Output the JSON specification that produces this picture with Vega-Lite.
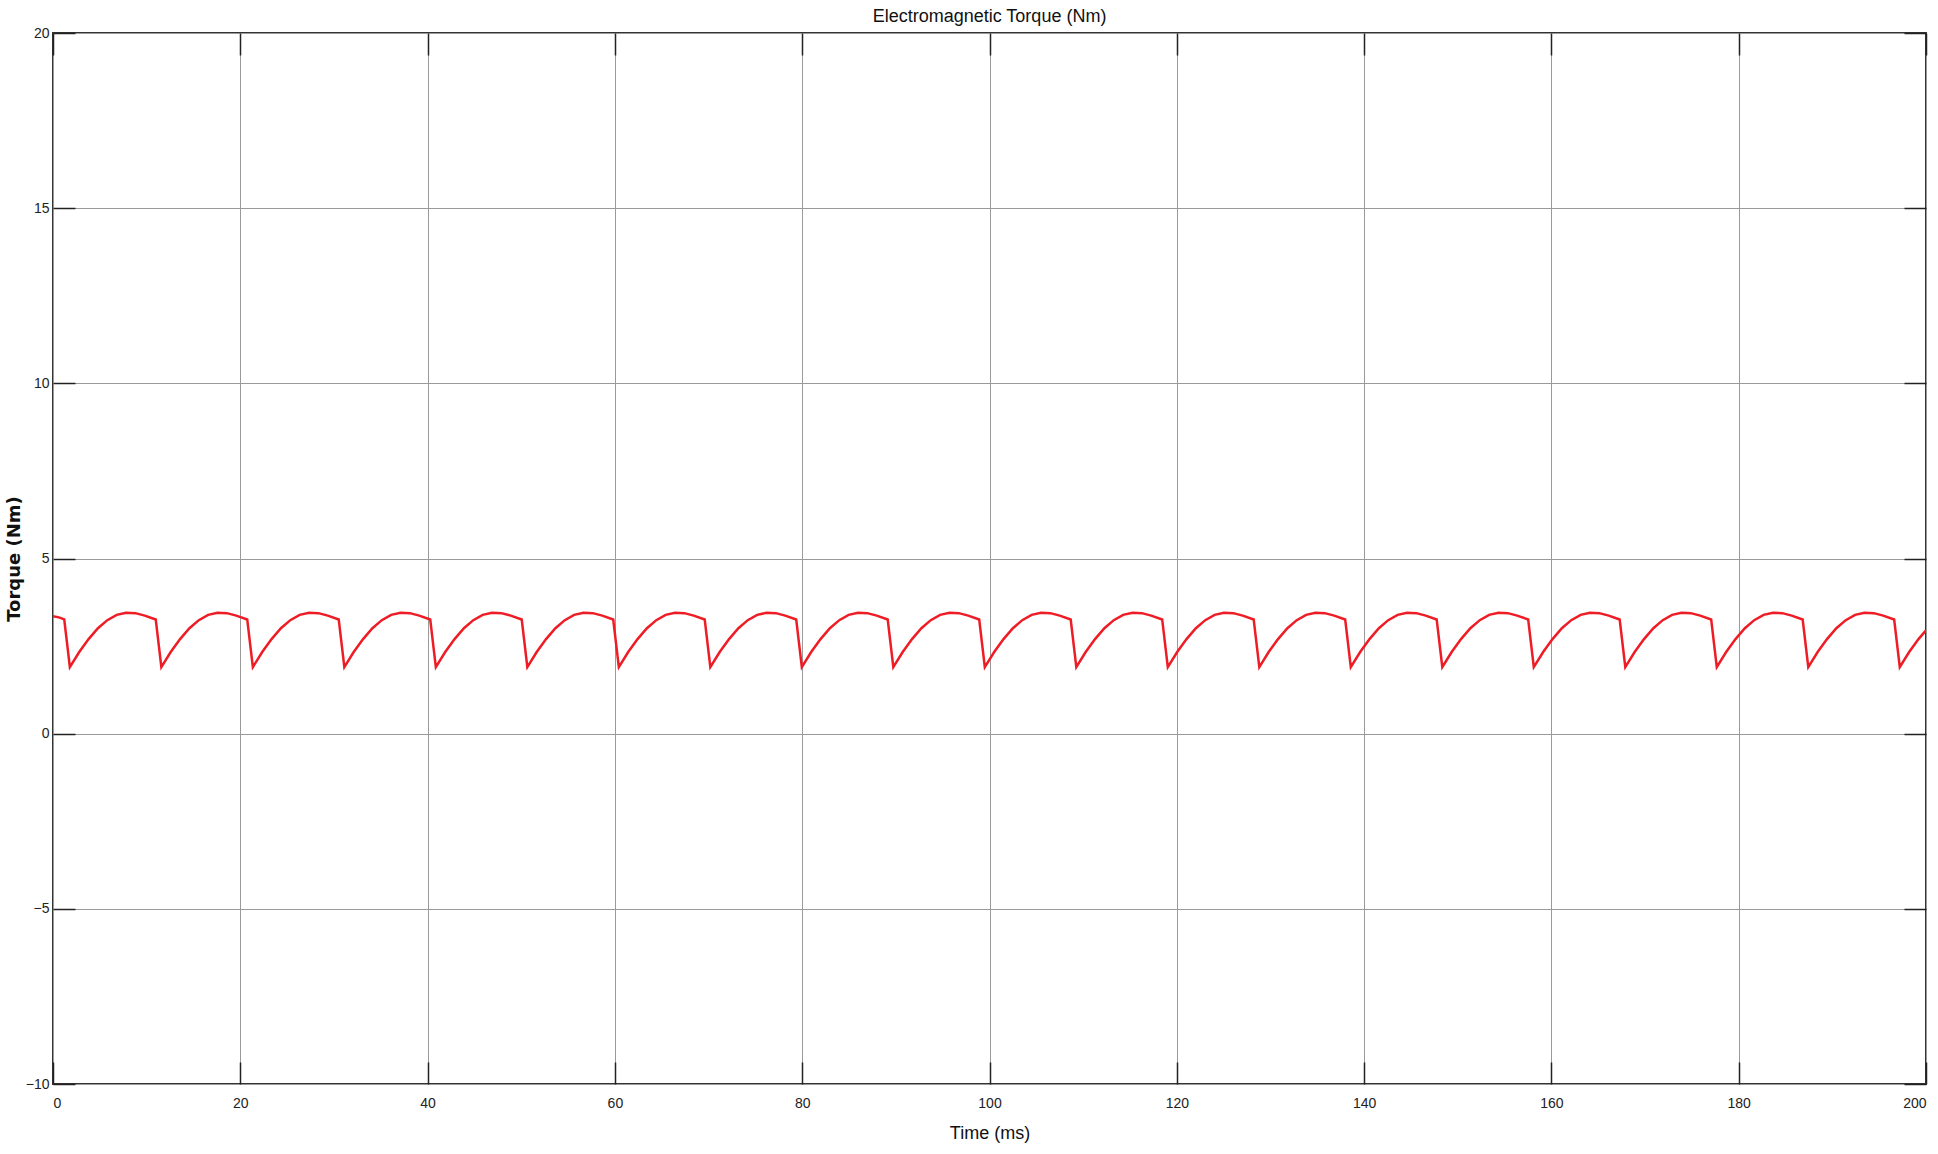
{
  "$schema": "https://vega.github.io/schema/vega-lite/v6.json",
  "autosize": {"type": "none"},
  "padding": {"left": 53, "top": 33, "right": 12, "bottom": 70},
  "width": 1873,
  "height": 1051,
  "background": "white",
  "title": {"text": "Electromagnetic Torque (Nm)", "font": "Liberation Sans", "fontSize": 18, "fontWeight": "normal", "color": "#111", "offset": 0},
  "config": {
    "view": {"stroke": "#333", "strokeWidth": 2},
    "axis": {"labelFont": "Liberation Sans", "titleFont": "Liberation Sans", "labelColor": "#222", "titleColor": "#111", "labelFontSize": 14, "gridColor": "#9a9a9a", "gridWidth": 1, "gridOpacity": 1, "domain": false}
  },
  "data": {"values": [
    {"t":0,"v":3.35},{"t":0.63,"v":3.32},{"t":1.2,"v":3.26},
    {"t":1.8,"v":1.9},{"t":2.8,"v":2.33},{"t":3.8,"v":2.7},{"t":4.8,"v":3.01},{"t":5.8,"v":3.24},{"t":6.8,"v":3.39},{"t":7.8,"v":3.45},{"t":8.8,"v":3.44},{"t":9.8,"v":3.37},{"t":10.97,"v":3.26},
    {"t":11.57,"v":1.9},{"t":12.57,"v":2.33},{"t":13.57,"v":2.7},{"t":14.57,"v":3.01},{"t":15.57,"v":3.24},{"t":16.57,"v":3.39},{"t":17.57,"v":3.45},{"t":18.57,"v":3.44},{"t":19.57,"v":3.37},{"t":20.74,"v":3.26},
    {"t":21.34,"v":1.9},{"t":22.34,"v":2.33},{"t":23.34,"v":2.7},{"t":24.34,"v":3.01},{"t":25.34,"v":3.24},{"t":26.34,"v":3.39},{"t":27.34,"v":3.45},{"t":28.34,"v":3.44},{"t":29.34,"v":3.37},{"t":30.51,"v":3.26},
    {"t":31.11,"v":1.9},{"t":32.11,"v":2.33},{"t":33.11,"v":2.7},{"t":34.11,"v":3.01},{"t":35.11,"v":3.24},{"t":36.11,"v":3.39},{"t":37.11,"v":3.45},{"t":38.11,"v":3.44},{"t":39.11,"v":3.37},{"t":40.28,"v":3.26},
    {"t":40.88,"v":1.9},{"t":41.88,"v":2.33},{"t":42.88,"v":2.7},{"t":43.88,"v":3.01},{"t":44.88,"v":3.24},{"t":45.88,"v":3.39},{"t":46.88,"v":3.45},{"t":47.88,"v":3.44},{"t":48.88,"v":3.37},{"t":50.05,"v":3.26},
    {"t":50.65,"v":1.9},{"t":51.65,"v":2.33},{"t":52.65,"v":2.7},{"t":53.65,"v":3.01},{"t":54.65,"v":3.24},{"t":55.65,"v":3.39},{"t":56.65,"v":3.45},{"t":57.65,"v":3.44},{"t":58.65,"v":3.37},{"t":59.82,"v":3.26},
    {"t":60.42,"v":1.9},{"t":61.42,"v":2.33},{"t":62.42,"v":2.7},{"t":63.42,"v":3.01},{"t":64.42,"v":3.24},{"t":65.42,"v":3.39},{"t":66.42,"v":3.45},{"t":67.42,"v":3.44},{"t":68.42,"v":3.37},{"t":69.59,"v":3.26},
    {"t":70.19,"v":1.9},{"t":71.19,"v":2.33},{"t":72.19,"v":2.7},{"t":73.19,"v":3.01},{"t":74.19,"v":3.24},{"t":75.19,"v":3.39},{"t":76.19,"v":3.45},{"t":77.19,"v":3.44},{"t":78.19,"v":3.37},{"t":79.36,"v":3.26},
    {"t":79.96,"v":1.9},{"t":80.96,"v":2.33},{"t":81.96,"v":2.7},{"t":82.96,"v":3.01},{"t":83.96,"v":3.24},{"t":84.96,"v":3.39},{"t":85.96,"v":3.45},{"t":86.96,"v":3.44},{"t":87.96,"v":3.37},{"t":89.13,"v":3.26},
    {"t":89.73,"v":1.9},{"t":90.73,"v":2.33},{"t":91.73,"v":2.7},{"t":92.73,"v":3.01},{"t":93.73,"v":3.24},{"t":94.73,"v":3.39},{"t":95.73,"v":3.45},{"t":96.73,"v":3.44},{"t":97.73,"v":3.37},{"t":98.9,"v":3.26},
    {"t":99.5,"v":1.9},{"t":100.5,"v":2.33},{"t":101.5,"v":2.7},{"t":102.5,"v":3.01},{"t":103.5,"v":3.24},{"t":104.5,"v":3.39},{"t":105.5,"v":3.45},{"t":106.5,"v":3.44},{"t":107.5,"v":3.37},{"t":108.67,"v":3.26},
    {"t":109.27,"v":1.9},{"t":110.27,"v":2.33},{"t":111.27,"v":2.7},{"t":112.27,"v":3.01},{"t":113.27,"v":3.24},{"t":114.27,"v":3.39},{"t":115.27,"v":3.45},{"t":116.27,"v":3.44},{"t":117.27,"v":3.37},{"t":118.44,"v":3.26},
    {"t":119.04,"v":1.9},{"t":120.04,"v":2.33},{"t":121.04,"v":2.7},{"t":122.04,"v":3.01},{"t":123.04,"v":3.24},{"t":124.04,"v":3.39},{"t":125.04,"v":3.45},{"t":126.04,"v":3.44},{"t":127.04,"v":3.37},{"t":128.21,"v":3.26},
    {"t":128.81,"v":1.9},{"t":129.81,"v":2.33},{"t":130.81,"v":2.7},{"t":131.81,"v":3.01},{"t":132.81,"v":3.24},{"t":133.81,"v":3.39},{"t":134.81,"v":3.45},{"t":135.81,"v":3.44},{"t":136.81,"v":3.37},{"t":137.98,"v":3.26},
    {"t":138.58,"v":1.9},{"t":139.58,"v":2.33},{"t":140.58,"v":2.7},{"t":141.58,"v":3.01},{"t":142.58,"v":3.24},{"t":143.58,"v":3.39},{"t":144.58,"v":3.45},{"t":145.58,"v":3.44},{"t":146.58,"v":3.37},{"t":147.75,"v":3.26},
    {"t":148.35,"v":1.9},{"t":149.35,"v":2.33},{"t":150.35,"v":2.7},{"t":151.35,"v":3.01},{"t":152.35,"v":3.24},{"t":153.35,"v":3.39},{"t":154.35,"v":3.45},{"t":155.35,"v":3.44},{"t":156.35,"v":3.37},{"t":157.52,"v":3.26},
    {"t":158.12,"v":1.9},{"t":159.12,"v":2.33},{"t":160.12,"v":2.7},{"t":161.12,"v":3.01},{"t":162.12,"v":3.24},{"t":163.12,"v":3.39},{"t":164.12,"v":3.45},{"t":165.12,"v":3.44},{"t":166.12,"v":3.37},{"t":167.29,"v":3.26},
    {"t":167.89,"v":1.9},{"t":168.89,"v":2.33},{"t":169.89,"v":2.7},{"t":170.89,"v":3.01},{"t":171.89,"v":3.24},{"t":172.89,"v":3.39},{"t":173.89,"v":3.45},{"t":174.89,"v":3.44},{"t":175.89,"v":3.37},{"t":177.06,"v":3.26},
    {"t":177.66,"v":1.9},{"t":178.66,"v":2.33},{"t":179.66,"v":2.7},{"t":180.66,"v":3.01},{"t":181.66,"v":3.24},{"t":182.66,"v":3.39},{"t":183.66,"v":3.45},{"t":184.66,"v":3.44},{"t":185.66,"v":3.37},{"t":186.83,"v":3.26},
    {"t":187.43,"v":1.9},{"t":188.43,"v":2.33},{"t":189.43,"v":2.7},{"t":190.43,"v":3.01},{"t":191.43,"v":3.24},{"t":192.43,"v":3.39},{"t":193.43,"v":3.45},{"t":194.43,"v":3.44},{"t":195.43,"v":3.37},{"t":196.6,"v":3.26},
    {"t":197.2,"v":1.9},{"t":198.2,"v":2.33},{"t":199.2,"v":2.7},{"t":200,"v":2.95}
  ]},
  "layer": [
    {
      "mark": {"type": "line", "color": "#ee1c25", "strokeWidth": 2.5, "clip": true},
      "encoding": {
        "x": {"field": "t", "type": "quantitative", "scale": {"domain": [0, 200], "nice": false},
              "axis": {"orient": "bottom", "values": [0,20,40,60,80,100,120,140,160,180,200], "tickSize": -22, "tickColor": "#222", "tickWidth": 1.5, "labelPadding": 34, "title": "Time (ms)", "titleFontSize": 18, "titleFontWeight": "normal", "titlePadding": 14, "grid": true}},
        "y": {"field": "v", "type": "quantitative", "scale": {"domain": [-10, 20], "nice": false},
              "axis": {"orient": "left", "values": [-10,-5,0,5,10,15,20], "tickSize": -22, "tickColor": "#222", "tickWidth": 1.5, "labelPadding": 26, "title": "Torque (Nm)", "titleFont": "DejaVu Sans", "titleFontSize": 18, "titleFontWeight": "bold", "titlePadding": 2, "grid": true}}
      }
    },
    {
      "mark": {"type": "line", "opacity": 0},
      "encoding": {
        "x": {"field": "t", "type": "quantitative",
              "axis": {"orient": "top", "values": [0,20,40,60,80,100,120,140,160,180,200], "tickSize": -22, "tickColor": "#222", "tickWidth": 1.5, "labels": false, "title": null, "grid": false}},
        "y": {"field": "v", "type": "quantitative",
              "axis": {"orient": "right", "values": [-10,-5,0,5,10,15,20], "tickSize": -22, "tickColor": "#222", "tickWidth": 1.5, "labels": false, "title": null, "grid": false}}
      }
    }
  ],
  "resolve": {"axis": {"x": "independent", "y": "independent"}}
}
